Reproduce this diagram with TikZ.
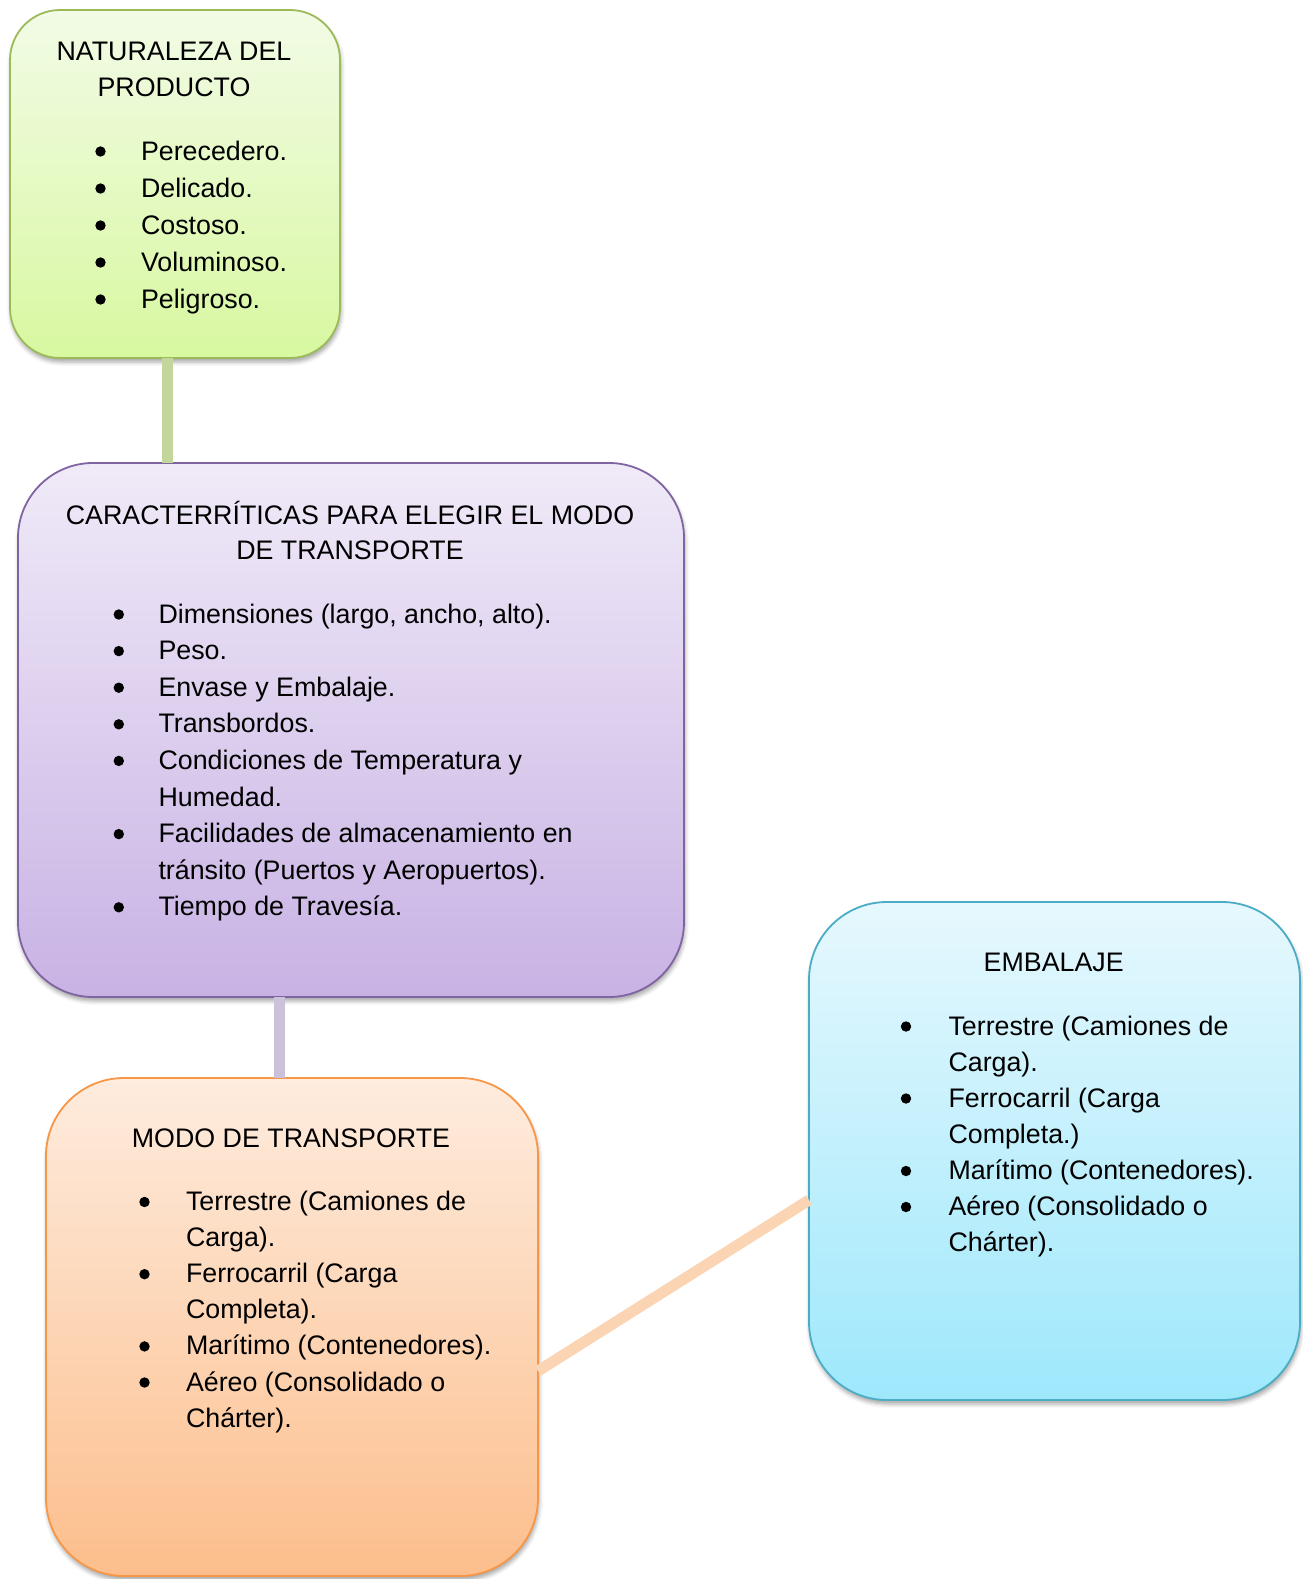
\documentclass[tikz,border=0pt]{standalone}
\usepackage{fontspec}
\setmainfont{Liberation Sans}
\usetikzlibrary{shadows.blur}
\definecolor{gBorder}{RGB}{155,187,89}
\definecolor{gTop}{RGB}{242,251,230}
\definecolor{gBot}{RGB}{216,248,160}
\definecolor{pBorder}{RGB}{128,100,162}
\definecolor{pTop}{RGB}{240,234,248}
\definecolor{pBot}{RGB}{200,178,228}
\definecolor{oBorder}{RGB}{247,150,70}
\definecolor{oTop}{RGB}{254,236,222}
\definecolor{oBot}{RGB}{252,190,140}
\definecolor{bBorder}{RGB}{75,172,198}
\definecolor{bTop}{RGB}{230,248,253}
\definecolor{bBot}{RGB}{158,232,252}
\definecolor{gLink}{RGB}{195,214,155}
\definecolor{pLink}{RGB}{204,193,218}
\definecolor{oLink}{RGB}{251,212,180}
\tikzset{
  box/.style={draw, line width=1.8pt, inner sep=0pt, outer sep=0pt,
    blur shadow={shadow xshift=1pt, shadow yshift=-4pt, shadow blur radius=4pt, shadow opacity=35}},
  gbox/.style={box, draw=gBorder, top color=gTop, bottom color=gBot, rounded corners=50pt,
    minimum width=330pt, minimum height=348pt},
  pbox/.style={box, draw=pBorder, top color=pTop, bottom color=pBot, rounded corners=75pt,
    minimum width=666pt, minimum height=534pt},
  obox/.style={box, draw=oBorder, top color=oTop, bottom color=oBot, rounded corners=78pt,
    minimum width=492pt, minimum height=498pt},
  bbox/.style={box, draw=bBorder, top color=bTop, bottom color=bBot, rounded corners=78pt,
    minimum width=491pt, minimum height=498pt},
  link/.style={line width=11pt},
  txt/.style={inner sep=0pt, outer sep=0pt, anchor=base west,
    font=\fontsize{26.8pt}{37pt}\selectfont},
  ttl/.style={txt, anchor=base},
}
% bullet line: name, bullet x, text x, baseline, text
\newcommand\bl[5]{\fill (#2,{#4-8.5}) circle (5.2pt); \node[txt] (#1) at (#3,#4) {#5};}
% continuation line: name, text x, baseline, text
\newcommand\cl[4]{\node[txt] (#1) at (#2,#3) {#4};}
\begin{document}
\begin{tikzpicture}[x=1pt,y=-1pt]
\useasboundingbox (0,0) rectangle (1303,1579);

% boxes
\node[gbox] (b1) at (175,184) {};
\node[pbox] (b2) at (351,730) {};
\node[obox] (b3) at (292,1327) {};
\node[bbox] (b4) at (1054.5,1151) {};

% connectors
\draw[link, gLink] ([xshift=-7.5pt]b1.south) -- ([xshift=-7.5pt]b1.south |- b2.north);
\draw[link, pLink] ([xshift=-13pt]b3.north) -- ([xshift=-13pt]b3.north |- b2.south);
\draw[link, oLink] ([yshift=-44pt]b3.east) -- ([yshift=-49pt]b4.west);

% green box text
\node[ttl] (t1a) at (174,61) {NATURALEZA DEL};
\node[ttl] (t1b) at (174,96) {PRODUCTO};
\bl{g1}{100.5}{141}{160}{Perecedero.}
\bl{g2}{100.5}{141}{197}{Delicado.}
\bl{g3}{100.5}{141}{234}{Costoso.}
\bl{g4}{100.5}{141}{271}{Voluminoso.}
\bl{g5}{100.5}{141}{308}{Peligroso.}

% purple box text
\node[ttl] (t2a) at (350,524) {CARACTERRÍTICAS PARA ELEGIR EL MODO};
\node[ttl] (t2b) at (350,559) {DE TRANSPORTE};
\bl{p1}{118.8}{158.5}{623}{Dimensiones (largo, ancho, alto).}
\bl{p2}{118.8}{158.5}{659.6}{Peso.}
\bl{p3}{118.8}{158.5}{696.2}{Envase y Embalaje.}
\bl{p4}{118.8}{158.5}{732.8}{Transbordos.}
\bl{p5}{118.8}{158.5}{769.4}{Condiciones de Temperatura y}
\cl{p5b}{158.5}{806}{Humedad.}
\bl{p6}{118.8}{158.5}{842.6}{Facilidades de almacenamiento en}
\cl{p6b}{158.5}{879.2}{tránsito (Puertos y Aeropuertos).}
\bl{p7}{118.8}{158.5}{915.8}{Tiempo de Travesía.}

% orange box text
\node[ttl] (t3) at (291,1147) {MODO DE TRANSPORTE};
\bl{o1}{144.5}{186}{1210.5}{Terrestre (Camiones de}
\cl{o1b}{186}{1246.6}{Carga).}
\bl{o2}{144.5}{186}{1282.7}{Ferrocarril (Carga}
\cl{o2b}{186}{1318.8}{Completa).}
\bl{o3}{144.5}{186}{1354.9}{Marítimo (Contenedores).}
\bl{o4}{144.5}{186}{1391}{Aéreo (Consolidado o}
\cl{o4b}{186}{1427}{Chárter).}

% blue box text
\node[ttl] (t4) at (1053.7,971) {EMBALAJE};
\bl{c1}{906}{948.5}{1035}{Terrestre (Camiones de}
\cl{c1b}{948.5}{1071}{Carga).}
\bl{c2}{906}{948.5}{1107}{Ferrocarril (Carga}
\cl{c2b}{948.5}{1143}{Completa.)}
\bl{c3}{906}{948.5}{1179.5}{Marítimo (Contenedores).}
\bl{c4}{906}{948.5}{1215.5}{Aéreo (Consolidado o}
\cl{c4b}{948.5}{1251.6}{Chárter).}
\end{tikzpicture}
\end{document}
